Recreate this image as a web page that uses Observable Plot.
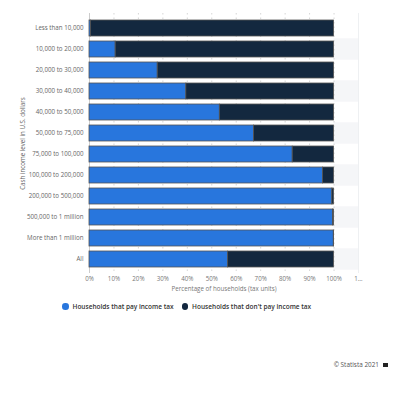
<!DOCTYPE html>
<html>
<head>
<meta charset="utf-8">
<script src="https://cdn.jsdelivr.net/npm/d3@7"></script>
<script src="https://cdn.jsdelivr.net/npm/@observablehq/plot@0.6"></script>
<style>
  html, body { margin: 0; padding: 0; background: #fff; }
  body { width: 400px; height: 393px; position: relative; font-family: "Open Sans", sans-serif; overflow: hidden; }
  #chart { position: absolute; left: 0; top: 0; }
  #legend { position: absolute; left: 62px; top: 302px; display: flex; align-items: center; font-size: 6.5px; font-weight: 600; color: #333; white-space: nowrap; }
  #legend .item { display: flex; align-items: center; margin-right: 8px; }
  #legend .dot { width: 6.5px; height: 6.5px; border-radius: 50%; margin-right: 4px; }
  #credit { position: absolute; right: 12px; top: 360px; font-size: 6.4px; color: #555; display: flex; align-items: center; }
  #credit .flag { display: inline-block; width: 5px; height: 4px; background: #222; margin-left: 4px; }
</style>
</head>
<body>
<div id="chart"></div>
<div id="legend"></div>
<div id="credit">© Statista 2021<span class="flag"></span></div>
<script>
const categories = ["Less than 10,000", "10,000 to 20,000", "20,000 to 30,000", "30,000 to 40,000", "40,000 to 50,000", "50,000 to 75,000", "75,000 to 100,000", "100,000 to 200,000", "200,000 to 500,000", "500,000 to 1 million", "More than 1 million", "All"];
const seriesNames = ["Households that pay income tax", "Households that don't pay income tax"];
const payTax = [0.6, 10.7, 27.9, 39.6, 53.3, 67.3, 83.1, 95.5, 99.3, 99.6, 99.9, 56.7];
const noTax = [99.4, 89.3, 72.1, 60.4, 46.7, 32.7, 16.9, 4.5, 0.7, 0.4, 0.1, 43.3];
const colors = ["#2876dd", "#13283f"];
const xTicks = [0, 10, 20, 30, 40, 50, 60, 70, 80, 90, 100, 110];

const data = [];
categories.forEach((c, i) => {
  data.push({category: c, series: seriesNames[0], value: payTax[i]});
  data.push({category: c, series: seriesNames[1], value: noTax[i]});
});
const xMax = xTicks[xTicks.length - 1];
const stripes = categories.filter((c, i) => i % 2 === 1).map(c => ({category: c, from: 100, to: xMax}));

const chart = Plot.plot({
  width: 400,
  height: 295,
  marginLeft: 89,
  marginRight: 42,
  marginTop: 13,
  marginBottom: 22,
  style: {fontFamily: "Open Sans, sans-serif", fontSize: "6.2px", color: "#666", background: "transparent"},
  x: {domain: [0, xMax], ticks: xTicks},
  y: {domain: categories, padding: 0.25},
  color: {domain: seriesNames, range: colors},
  marks: [
    Plot.barX(stripes, {x1: "from", x2: "to", y: "category", fill: "#f5f6f8", insetTop: -2.7, insetBottom: -2.7}),
    Plot.gridX(xTicks.filter(t => t < xMax), {stroke: "#ccc", strokeOpacity: 0.8, strokeDasharray: "1.5,3"}),
    Plot.ruleX([xMax], {stroke: "#eef0f2"}),
    Plot.ruleX([0], {stroke: "#ccc"}),
    Plot.barX(data, Plot.stackX({x: "value", y: "category", fill: "series", stroke: "#555", strokeWidth: 0.8, order: seriesNames})),
    Plot.axisY({tickSize: 0, tickPadding: 6, label: "Cash income level in U.S. dollars", labelAnchor: "center", labelArrow: "none", labelOffset: 69, fill: "#666"}),
    Plot.axisX({ticks: xTicks, tickSize: 0, tickPadding: 3, tickFormat: d => d <= 100 ? d + "%" : "1…", label: "Percentage of households (tax units)", labelAnchor: "center", labelArrow: "none", labelOffset: 17, fill: "#777"})
  ]
});
document.getElementById("chart").appendChild(chart);

const legend = document.getElementById("legend");
seriesNames.forEach((s, i) => {
  const item = document.createElement("div");
  item.className = "item";
  const dot = document.createElement("span");
  dot.className = "dot";
  dot.style.background = colors[i];
  item.appendChild(dot);
  item.appendChild(document.createTextNode(s));
  legend.appendChild(item);
});
</script>
</body>
</html>
